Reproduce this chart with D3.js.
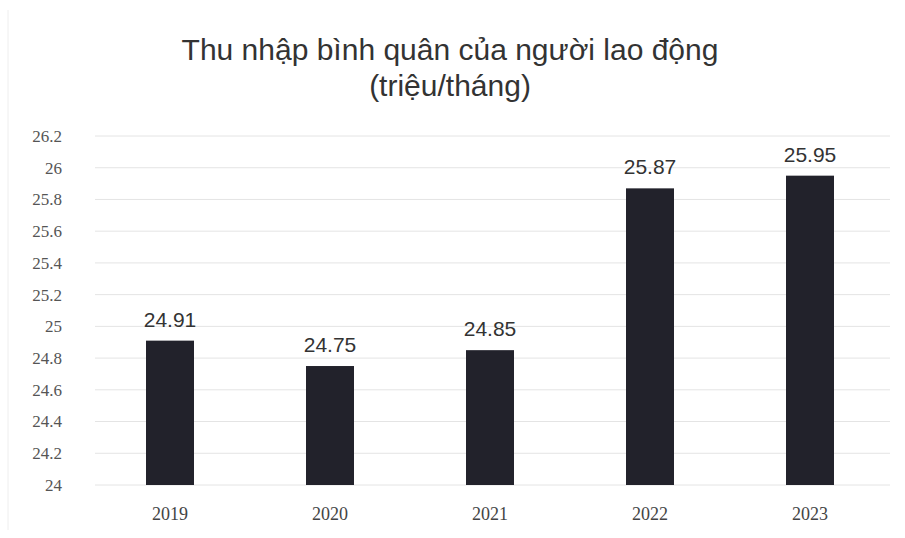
<!DOCTYPE html>
<html lang="vi">
<head>
<meta charset="UTF-8">
<title>Thu nhập bình quân</title>
<style>
  body { margin: 0; background: #fff; }
</style>
</head>
<body>
<script src="https://d3js.org/d3.v7.min.js"></script>
<script>
    const years = ["2019", "2020", "2021", "2022", "2023"];
    const incomes = [24.91, 24.75, 24.85, 25.87, 25.95];
    const yTicks = [24, 24.2, 24.4, 24.6, 24.8, 25, 25.2, 25.4, 25.6, 25.8, 26, 26.2];
    const titleLines = ["Thu nhập bình quân của người lao động", "(triệu/tháng)"];

    const width = 905, height = 538;
    const margin = { top: 136, right: 15, bottom: 53, left: 90 };

    const svg = d3.select("body").append("svg")
        .attr("width", width)
        .attr("height", height);

    // faint frame on the left like the scan
    svg.append("line")
        .attr("x1", 8).attr("x2", 8).attr("y1", 10).attr("y2", 530)
        .attr("stroke", "#eee");

    const x = d3.scaleBand()
        .domain(years)
        .range([margin.left, width - margin.right])
        .paddingInner(0.7)
        .paddingOuter(0.35);

    const y = d3.scaleLinear()
        .domain([24, 26.2])
        .range([height - margin.bottom, margin.top]);

    // gridlines
    svg.append("g")
        .selectAll("line")
        .data(yTicks)
        .enter()
        .append("line")
        .attr("x1", margin.left + 5)
        .attr("x2", width - margin.right)
        .attr("y1", d => y(d))
        .attr("y2", d => y(d))
        .attr("stroke", "#e4e4e4");

    // y axis labels
    const yAxis = d3.axisLeft(y).tickValues(yTicks).tickSize(0).tickPadding(0)
        .tickFormat(d => d3.format("~g")(d));
    svg.append("g")
        .attr("transform", "translate(62,0)")
        .call(yAxis)
        .call(g => g.select(".domain").remove())
        .selectAll("text")
        .attr("font-family", "Liberation Serif, serif")
        .attr("font-size", 17)
        .attr("fill", "#555");

    // x axis labels
    const xAxis = d3.axisBottom(x).tickSize(0).tickPadding(0);
    svg.append("g")
        .attr("transform", "translate(0," + (height - margin.bottom + 22) + ")")
        .call(xAxis)
        .call(g => g.select(".domain").remove())
        .selectAll("text")
        .attr("font-family", "Liberation Serif, serif")
        .attr("font-size", 18)
        .attr("fill", "#444");

    // bars
    svg.selectAll("rect.bar")
        .data(incomes)
        .enter()
        .append("rect")
        .attr("class", "bar")
        .attr("x", (d, i) => x(years[i]))
        .attr("width", x.bandwidth())
        .attr("y", d => y(d))
        .attr("height", d => y(24) - y(d))
        .attr("fill", "#22222b");

    // value labels
    svg.selectAll("text.val")
        .data(incomes)
        .enter()
        .append("text")
        .attr("class", "val")
        .attr("x", (d, i) => x(years[i]) + x.bandwidth() / 2)
        .attr("y", d => y(d) - 14)
        .attr("text-anchor", "middle")
        .attr("font-family", "Liberation Sans, Arial, sans-serif")
        .attr("font-size", 21)
        .attr("fill", "#333")
        .text(d => d);

    // title
    svg.append("g")
        .selectAll("text")
        .data(titleLines)
        .enter()
        .append("text")
        .attr("x", 450)
        .attr("y", (d, i) => 60 + i * 36)
        .attr("text-anchor", "middle")
        .attr("font-family", "Liberation Sans, Arial, sans-serif")
        .attr("font-size", 30)
        .attr("fill", "#333")
        .text(d => d);
</script>
</body>
</html>
